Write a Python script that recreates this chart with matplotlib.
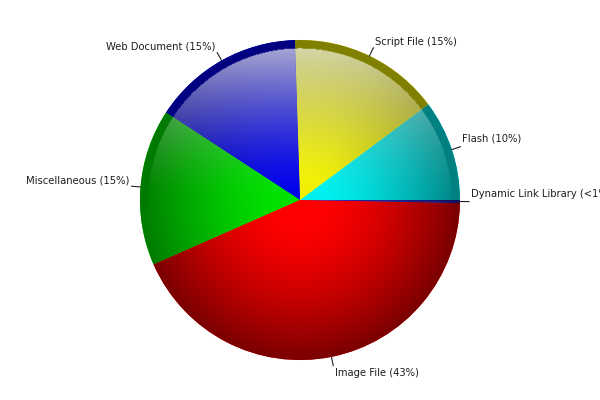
import numpy as np
import matplotlib
matplotlib.use("Agg")
import matplotlib.pyplot as plt

# slice data (counter-clockwise from 3 o'clock)
names = ["Flash", "Script File", "Web Document", "Miscellaneous", "Image File", "Dynamic Link Library"]
pct_labels = ["10%", "15%", "15%", "15%", "43%", "<1%"]
values = [10.2, 15.3, 15.3, 15.8, 43.1, 0.3]
bright = ["#00f0f0", "#f0f000", "#0000e8", "#00e000", "#ff0000", "#2a2ab0"]
dark = ["#008080", "#808000", "#000080", "#007a00", "#7a0000", "#101060"]

cx, cy, R = 300, 200, 160

fig = plt.figure(figsize=(6, 4), dpi=100)
ax = fig.add_axes([0, 0, 1, 1])

wedges, _ = ax.pie(values, startangle=0, counterclock=True, center=(cx, cy),
                   radius=R, colors=bright, frame=True,
                   wedgeprops=dict(linewidth=0))

# shading grid
n = 400
xs = np.linspace(-1, 1, n)
X, Y = np.meshgrid(xs, xs)
Rr = np.sqrt(X ** 2 + Y ** 2)


def to_rgb(c):
    return np.array(matplotlib.colors.to_rgb(c))


for w, b, d in zip(wedges, bright, dark):
    b, d = to_rgb(b), to_rgb(d)
    k = np.clip((Rr - 0.15) / 0.85, 0, 1) ** 1.4
    img = b[None, None, :] * (1 - k[..., None]) + d[None, None, :] * k[..., None]
    gloss = 0.7 * np.clip(Y, 0, 1) ** 1.5
    img = img * (1 - gloss[..., None]) + gloss[..., None]
    rim = (Rr > 0.95) & (Y > -0.05)
    img[rim] = d
    img = np.clip(img, 0, 1)
    im = ax.imshow(img, extent=[cx - R, cx + R, cy - R, cy + R], origin="lower",
                   interpolation="bilinear", zorder=2)
    im.set_clip_path(w)
    w.set_zorder(1)

# labels with short leader lines
for w, nm, p in zip(wedges, names, pct_labels):
    ang = np.deg2rad((w.theta1 + w.theta2) / 2)
    c, s = np.cos(ang), np.sin(ang)
    x0, y0 = cx + R * c, cy + R * s
    x1, y1 = cx + (R + 9) * c, cy + (R + 9) * s
    ax.plot([x0, x1], [y0, y1], color="#222222", lw=0.8, zorder=3)
    ha = "left" if c >= 0 else "right"
    va = "top" if s < -0.5 else "bottom"
    dx = 2 if c >= 0 else -2
    dy = -2 if va == "top" else (3 if c > 0.9 else 1)
    ax.text(x1 + dx, y1 + dy, f"{nm} ({p})",
            ha=ha, va=va, fontsize=7.2, color="#1e1e1e", zorder=4)

ax.set_xlim(0, 600)
ax.set_ylim(0, 400)
ax.set_aspect("auto")
ax.axis("off")

fig.savefig("out.png", dpi=100, facecolor="white")
